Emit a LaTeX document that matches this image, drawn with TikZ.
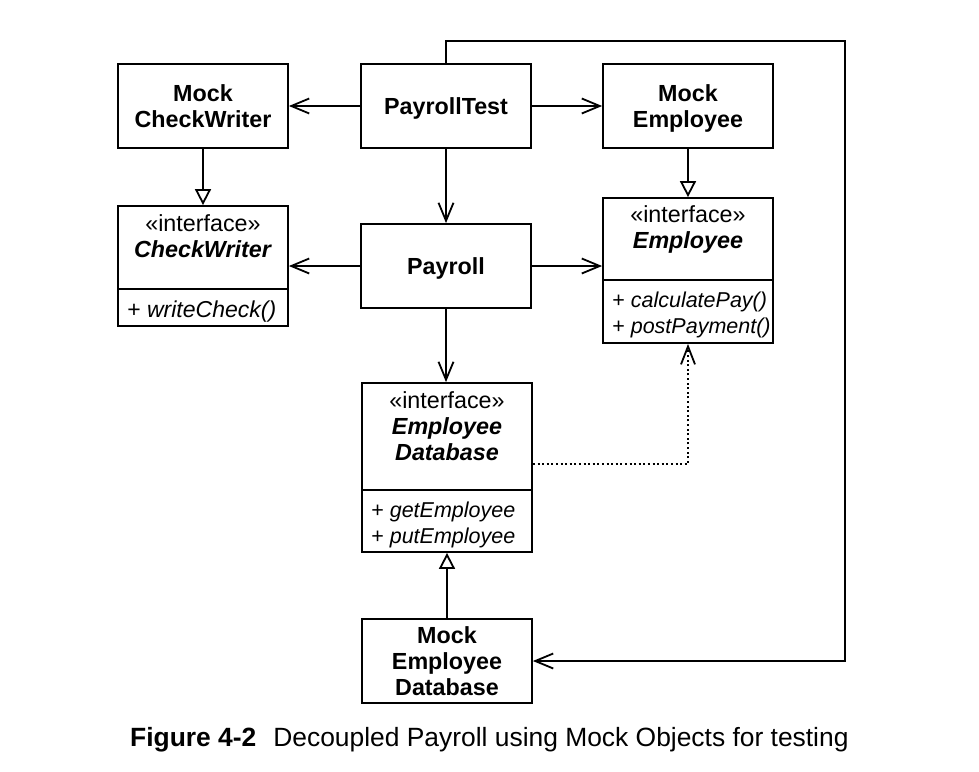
\documentclass[tikz,border=0pt]{standalone}
\usepackage{fontspec}
\setmainfont{Liberation Sans}
\usetikzlibrary{arrows.meta}
\newcommand{\boxfont}{\fontsize{23.3}{26}\selectfont}
\newcommand{\opsfont}{\fontsize{21.5}{26}\selectfont}

\begin{document}
\begin{tikzpicture}[x=1pt,y=-1pt,
  cls/.style={draw,line width=1.8pt,minimum width=170pt,inner sep=0pt,text depth=0pt,align=center,font=\boxfont\bfseries},
  stereo/.style={anchor=north,inner sep=0pt,align=center,font=\boxfont},
  ops/.style={anchor=north west,inner sep=0pt,xshift=10pt,yshift=-12pt,align=left,font=\opsfont},
  uses/.style={line width=1.8pt,-{Straight Barb[length=18pt,width=15pt]}},
  realizes/.style={line width=1.8pt,-{Triangle[open,length=16pt,width=16pt]}},
  depends/.style={line width=1.8pt,dash pattern=on 2pt off 2.6pt,-{Straight Barb[length=18pt,width=14pt]}}]
  \useasboundingbox (0,0) rectangle (979,771);
  % top row: the test and its two mocks
  \node[cls,minimum height=84pt] (mcw) at (203,106) {Mock\\CheckWriter};
  \node[cls,minimum height=84pt] (test) at (446,106) {PayrollTest};
  \node[cls,minimum height=84pt] (me) at (688,106) {Mock\\Employee};
  % middle row: payroll and the interfaces it talks to
  \node[cls,minimum height=120pt] (cw) at (203,266) {};
  \node[stereo,yshift=-9pt] at (cw.north) {«interface»\\\textbf{\textit{CheckWriter}}};
  \draw[line width=1.8pt] (cw.west |- 0,289) -- (cw.east |- 0,289);
  \node[ops,font=\fontsize{23}{26}\selectfont] at (cw.west |- 0,289) {+ \textit{writeCheck()}};
  \node[cls,minimum height=84pt] (pay) at (446,266) {Payroll};
  \node[cls,minimum height=145pt] (emp) at (688,270.5) {};
  \node[stereo,yshift=-8pt] at (emp.north) {«interface»\\\textbf{\textit{Employee}}};
  \draw[line width=1.8pt] (emp.west |- 0,280) -- (emp.east |- 0,280);
  \node[ops] at (emp.west |- 0,280) {+ \textit{calculatePay()}\\+ \textit{postPayment()}};
  % bottom: the database interface and its mock
  \node[cls,minimum height=169pt] (edb) at (447,467.5) {};
  \node[stereo,yshift=-9pt] at (edb.north) {«interface»\\\textbf{\textit{Employee}}\\\textbf{\textit{Database}}};
  \draw[line width=1.8pt] (edb.west |- 0,490) -- (edb.east |- 0,490);
  \node[ops] at (edb.west |- 0,490) {+ \textit{getEmployee}\\+ \textit{putEmployee}};
  \node[cls,minimum height=84pt] (medb) at (447,661) {Mock\\Employee\\Database};
  % associations
  \draw[uses] (test.west) -- (mcw.east);
  \draw[uses] (test.east) -- (me.west);
  \draw[uses] (test.south) -- (pay.north);
  \draw[uses] (pay.west) -- (cw.east);
  \draw[uses] (pay.east) -- (pay.east -| emp.west);
  \draw[uses] (pay.south) -- (pay.south |- edb.north);
  % mocks implement the interfaces
  \draw[realizes] (mcw.south) -- (cw.north);
  \draw[realizes] (me.south) -- (emp.north);
  \draw[realizes] (medb.north) -- (edb.south);
  \draw[depends] (edb.east |- 0,464) -| (emp.south);
  % the test also drives the mock database
  \coordinate (turn) at (845,41);
  \draw[uses] (test.north) |- (turn) |- (medb.east);
  \node[anchor=base west,inner sep=0pt,font=\fontsize{26.4}{30}\selectfont] (caption) at (130,746)
    {\textbf{Figure 4-2}\hspace{17pt}Decoupled Payroll using Mock Objects for testing};
\end{tikzpicture}
\end{document}
